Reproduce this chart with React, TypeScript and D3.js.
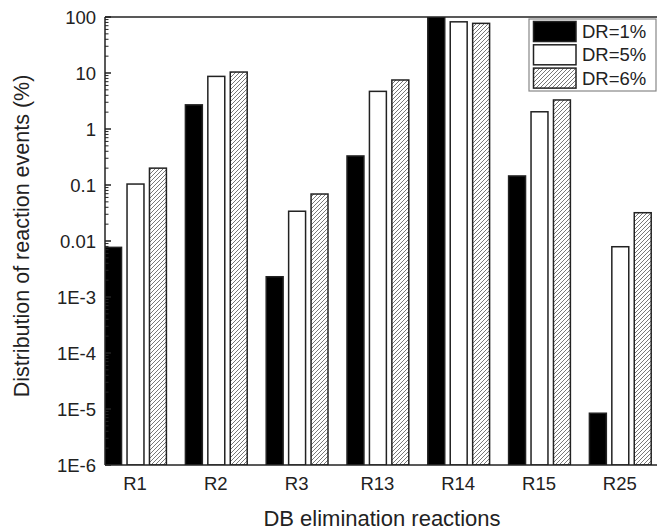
import React from "react";
import * as d3 from "d3";

const categories = ["R1", "R2", "R3", "R13", "R14", "R15", "R25"];
const seriesNames = ["DR=1%", "DR=5%", "DR=6%"];
const dr1 = [0.0077, 2.7, 0.0023, 0.33, 100, 0.145, 8.4e-6];
const dr5 = [0.104, 8.7, 0.034, 4.7, 82, 2.03, 0.0079];
const dr6 = [0.2, 10.4, 0.069, 7.5, 77, 3.3, 0.032];
const yTickValues = [100, 10, 1, 0.1, 0.01, 1e-3, 1e-4, 1e-5, 1e-6];
const yTickLabels = ["100", "10", "1", "0.1", "0.01", "1E-3", "1E-4", "1E-5", "1E-6"];

const W = 657;
const H = 531;
const left = 105;
const top = 17;
const bottom = 465;
const FONT = "'Liberation Sans', Arial, sans-serif";

export default function App() {
  const y = d3.scaleLog().domain([1e-6, 100]).range([bottom, top]);
  const x = d3.scaleBand<string>().domain(categories).range([96.1, 661.7]).padding(0);
  const inner = d3
    .scaleBand<number>()
    .domain([0, 1, 2])
    .range([-31.9, 29.9])
    .paddingInner(0.245)
    .paddingOuter(0);
  const series = [dr1, dr5, dr6];
  const fills = ["#000", "#fff", "url(#hatch)"];

  const minorTicks: number[] = [];
  for (let e = -6; e < 2; e++) {
    for (let m = 2; m <= 9; m++) minorTicks.push(m * Math.pow(10, e));
  }

  const bw = inner.bandwidth();

  return (
    <svg
      width={W}
      height={H}
      style={{ position: "absolute", left: 0, top: 0, background: "#fff" }}
    >
      <defs>
        <pattern id="hatch" patternUnits="userSpaceOnUse" width="4" height="4">
          <rect width="4" height="4" fill="#fff" />
          <path
            d="M-1,1 L1,-1 M0,4 L4,0 M3,5 L5,3"
            stroke="#555"
            strokeWidth="0.8"
          />
        </pattern>
        <clipPath id="plotClip">
          <rect x={left} y={top} width={W} height={bottom - top} />
        </clipPath>
      </defs>
      <rect x={0} y={0} width={W} height={H} fill="#fff" />

      <g clipPath="url(#plotClip)">
        {categories.map((c, i) => (
          <g key={c}>
            {series.map((s, k) => {
              const cx = (x(c) as number) + x.bandwidth() / 2 + (inner(k) as number);
              const yt = y(s[i]);
              return (
                <rect
                  key={k}
                  x={cx}
                  y={yt}
                  width={bw}
                  height={bottom - yt}
                  fill={fills[k]}
                  stroke="#222"
                  strokeWidth={1.5}
                />
              );
            })}
          </g>
        ))}
      </g>

      {/* axes frame */}
      <line x1={left} y1={top} x2={W} y2={top} stroke="#222" strokeWidth={1.5} />
      <line x1={left} y1={bottom} x2={W} y2={bottom} stroke="#222" strokeWidth={1.5} />
      <line x1={left} y1={top} x2={left} y2={bottom} stroke="#222" strokeWidth={1.5} />

      {/* y ticks */}
      {yTickValues.map((v, i) => (
        <g key={v}>
          <line x1={left} x2={left + 6} y1={y(v)} y2={y(v)} stroke="#222" strokeWidth={1.5} />
          <text
            x={96}
            y={y(v)}
            textAnchor="end"
            dominantBaseline="central"
            fontFamily={FONT}
            fontSize={18.5}
            fill="#222"
          >
            {yTickLabels[i]}
          </text>
        </g>
      ))}
      {minorTicks.map((v) => (
        <line
          key={v}
          x1={left}
          x2={left + 3.5}
          y1={y(v)}
          y2={y(v)}
          stroke="#222"
          strokeWidth={1}
        />
      ))}

      {/* x labels */}
      {categories.map((c) => (
        <text
          key={c}
          x={(x(c) as number) + x.bandwidth() / 2 - 1.5}
          y={490}
          textAnchor="middle"
          fontFamily={FONT}
          fontSize={18.5}
          fill="#222"
        >
          {c}
        </text>
      ))}

      {/* axis titles */}
      <text
        x={382}
        y={525.5}
        textAnchor="middle"
        fontFamily={FONT}
        fontSize={22}
        fill="#222"
      >
        DB elimination reactions
      </text>
      <text
        transform={`translate(28.5,236) rotate(-90)`}
        textAnchor="middle"
        fontFamily={FONT}
        fontSize={21.5}
        fill="#222"
      >
        Distribution of reaction events (%)
      </text>

      {/* legend */}
      <rect x={529} y={19} width={127} height={72} fill="#fff" stroke="#888" strokeWidth={1.2} />
      {seriesNames.map((n, k) => {
        const yy = 21.5 + k * 23.3;
        return (
          <g key={n}>
            <rect
              x={533.5}
              y={yy}
              width={42.5}
              height={20}
              fill={fills[k]}
              stroke="#222"
              strokeWidth={1.5}
            />
            <text
              x={582}
              y={yy + 10}
              dominantBaseline="central"
              fontFamily={FONT}
              fontSize={18.5}
              fill="#222"
            >
              {n}
            </text>
          </g>
        );
      })}
    </svg>
  );
}
